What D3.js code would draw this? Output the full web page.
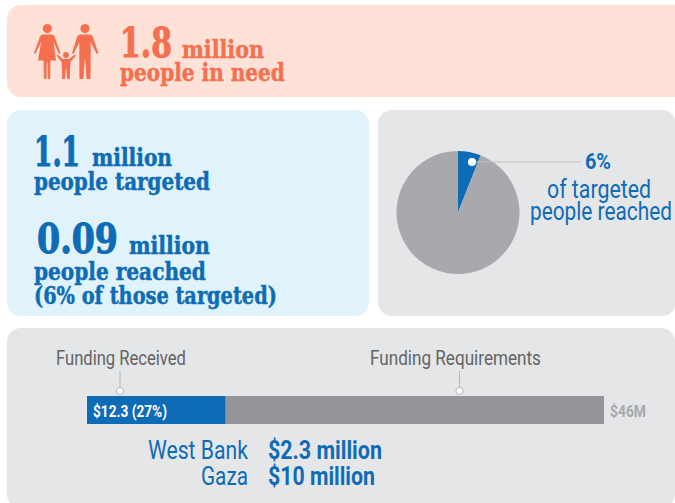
<!DOCTYPE html>
<html>
<head>
<meta charset="utf-8">
<script src="https://cdn.jsdelivr.net/npm/d3@7/dist/d3.min.js"></script>
<style>
  html, body { margin: 0; padding: 0; background: #fff; overflow: hidden; }
  svg { display: block; }
  .slab { font-family: "DejaVu Serif", serif; font-weight: 700; }
  .cond { font-family: Roboto, sans-serif; }
</style>
</head>
<body>
<svg id="chart" width="675" height="503"></svg>
<script>
// Reach figures, in millions of people
const peopleInNeed = 1.8;
const peopleTargeted = 1.1;
const peopleReached = 0.09;
const reachedShare = 6;

// Funding figures, in millions of dollars
const fundingReceived = 12.3;
const fundingReceivedShare = 27;
const fundingRequired = 46;
const fundingAreas = ["West Bank", "Gaza"];
const fundingAreaLabels = ["$2.3 million", "$10 million"];

const CORAL = "#f4704f", BLUE = "#0e6cb6", PIE_GREY = "#a7a9ac", BAR_GREY = "#939598";

const svg = d3.select("#chart");

// Rounded background panels
const panels = [
  { x: 7,   y: 5,   w: 690, h: 92,  fill: "#fee2d8" },
  { x: 7,   y: 110, w: 362, h: 206, fill: "#e0f3fb" },
  { x: 378, y: 110, w: 298, h: 206, fill: "#e5e6e8" },
  { x: 7,   y: 328, w: 668, h: 180, fill: "#e5e6e8" }
];
svg.selectAll("rect.panel").data(panels).join("rect")
  .attr("class", "panel")
  .attr("x", d => d.x).attr("y", d => d.y)
  .attr("width", d => d.w).attr("height", d => d.h)
  .attr("rx", 14).attr("fill", d => d.fill);

// Text helper: squeezes each string horizontally to a set width, since the
// installed faces run wider than the condensed set this layout calls for
function label(str, x, y, width, size, fill, cls, weight, heavy) {
  const t = svg.append("text")
    .attr("class", cls)
    .attr("font-size", size)
    .attr("fill", fill)
    .text(str);
  if (weight) t.attr("font-weight", weight);
  if (heavy) t.attr("stroke", fill).attr("stroke-width", heavy);
  const natural = t.node().getComputedTextLength();
  t.attr("transform", `translate(${x},${y}) scale(${width / natural},1)`);
  return t;
}

// Family icon: two adults and a child holding hands
const family = svg.append("g").attr("fill", CORAL).attr("stroke", "none");
family.append("circle").attr("cx", 47.3).attr("cy", 28.5).attr("r", 4.6);
family.append("circle").attr("cx", 85).attr("cy", 28.5).attr("r", 4.6);
family.append("circle").attr("cx", 66).attr("cy", 55).attr("r", 3);
family.append("path").attr("d",
  "M42.5 34.5 L52 34.5 Q53.5 34.5 54.5 36.5 L60.5 53 L59 54 L53.5 42 L56 60.5 L50.5 60.5 " +
  "L50.2 79 L47.8 79 L47.5 62 L46.7 62 L46.5 79 L44 79 L43.5 60.5 L38 60.5 L41 42 L35.3 54 L34 53 L40 36.5 Q41 34.5 42.5 34.5 Z");
family.append("path").attr("d",
  "M80 34.5 L90 34.5 Q92 34.5 93 37 L98.3 53 L96.6 54 L90.7 42 L90.7 60 L90.5 79 L86.5 79 L85.2 60 L84.7 60 " +
  "L83.5 79 L79.5 79 L79.3 60 L79.3 43 L73.5 54 L72 53 L77 37 Q78 34.5 80 34.5 Z");
family.append("path").attr("d",
  "M63 59 L69 59 L75 54.5 L76 55.5 L70.5 62 L70 69 L69.8 79 L67 79 L66.3 69 L65.7 69 L65 79 L62.2 79 " +
  "L62 69 L61.5 62 L56.5 55.5 L57.5 54.5 Z");

// People in need
label(peopleInNeed.toFixed(1), 120, 57, 52, 41, CORAL, "slab", null, 1.1);
label("million", 182, 58, 82, 24, CORAL, "slab", null, 0.5);
label("people in need", 120, 81, 165, 24, CORAL, "slab", null, 0.5);

// People targeted and reached
label(peopleTargeted.toFixed(1), 34, 166, 46, 41, BLUE, "slab", null, 1.1);
label("million", 92, 166, 80, 24, BLUE, "slab", null, 0.5);
label("people targeted", 34, 190, 176, 24, BLUE, "slab", null, 0.5);
label(peopleReached.toFixed(2), 37, 253, 81, 41, BLUE, "slab", null, 1.1);
label("million", 129, 254, 81, 24, BLUE, "slab", null, 0.5);
label("people reached", 34, 280, 172, 24, BLUE, "slab", null, 0.5);
label("(" + reachedShare + "% of those targeted)", 34, 304, 243, 24, BLUE, "slab", null, 0.5);

// Share of targeted people reached, clockwise from twelve o'clock
const pieValues = [reachedShare, 100 - reachedShare];
const pieColors = d3.scaleOrdinal().domain([0, 1]).range([BLUE, PIE_GREY]);
const pieCenter = [458, 212.5], pieRadius = 61.5;
const arc = d3.arc().innerRadius(0).outerRadius(pieRadius);
const pie = d3.pie().sort(null);
svg.append("g")
  .attr("transform", `translate(${pieCenter})`)
  .selectAll("path").data(pie(pieValues)).join("path")
  .attr("d", arc)
  .attr("fill", (d, i) => pieColors(i));

// Callout from the blue slice
svg.append("line").attr("x1", 472).attr("x2", 581).attr("y1", 162).attr("y2", 162)
  .attr("stroke", "#bcbec0").attr("stroke-width", 1);
svg.append("circle").attr("cx", 472).attr("cy", 162).attr("r", 4).attr("fill", "#fff");

label(reachedShare + "%", 585, 169, 26, 22, BLUE, "cond", 700);
label("of targeted", 547, 198, 104, 25, BLUE, "cond", 400);
label("people reached", 530, 220, 142, 25, BLUE, "cond", 400);

// Funding bar on a shared dollar scale
const x = d3.scaleLinear().domain([0, fundingRequired]).range([87, 604]);
const barTop = 396, barHeight = 28;
svg.append("rect")
  .attr("x", x(0)).attr("y", barTop)
  .attr("width", x(fundingRequired) - x(0)).attr("height", barHeight)
  .attr("fill", BAR_GREY);
svg.append("rect")
  .attr("x", x(0)).attr("y", barTop)
  .attr("width", x(fundingReceived) - x(0)).attr("height", barHeight)
  .attr("fill", BLUE);

label(`$${fundingReceived} (${fundingReceivedShare}%)`, 93, 417, 74, 16, "#fff", "cond", 700);
label(`$${fundingRequired}M`, 610, 417, 36, 16, PIE_GREY, "cond", 700);

// Leaders from the bar labels down to the bar
[120, 459.5].forEach(cx => {
  svg.append("line").attr("x1", cx).attr("x2", cx).attr("y1", 371).attr("y2", 388)
    .attr("stroke", "#b5b7b9").attr("stroke-width", 1);
  svg.append("circle").attr("cx", cx).attr("cy", 391).attr("r", 3.6)
    .attr("fill", "#fff").attr("stroke", "#b5b7b9").attr("stroke-width", 1);
});
label("Funding Received", 56, 365, 130, 19.5, "#636466", "cond", 400);
label("Funding Requirements", 370, 365, 171, 19.5, "#636466", "cond", 400);

// Breakdown by area
const areaRows = [459, 485];
const areaWidths = [100, 47], valueWidths = [114, 107];
fundingAreas.forEach((name, i) => {
  label(name, 248 - areaWidths[i], areaRows[i], areaWidths[i], 26, BLUE, "cond", 400);
  label(fundingAreaLabels[i], 268, areaRows[i], valueWidths[i], 26, BLUE, "cond", 700);
});
</script>
</body>
</html>
